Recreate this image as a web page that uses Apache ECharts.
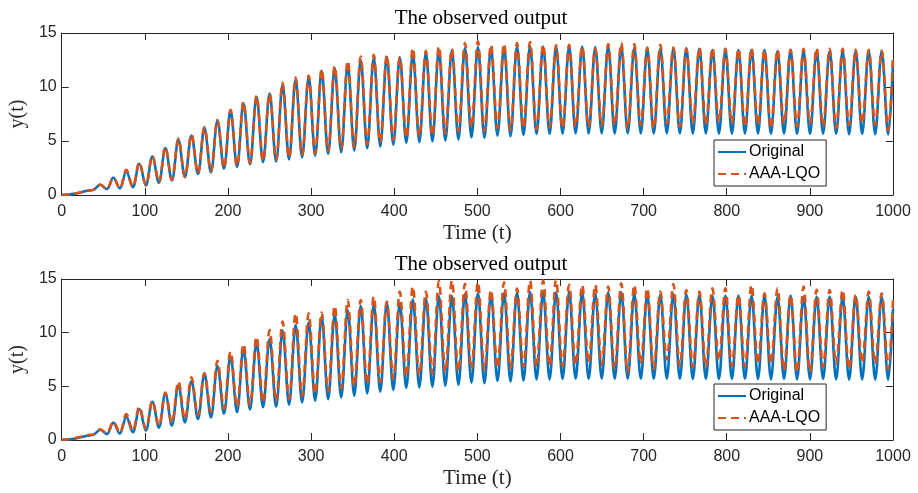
<!DOCTYPE html>
<html>
<head>
<meta charset="utf-8">
<script src="https://cdn.jsdelivr.net/npm/echarts@6/dist/echarts.min.js"></script>
<style>
  html, body { margin: 0; padding: 0; background: #fff; }
  #chart { width: 918px; height: 493px; }
</style>
</head>
<body>
<div id="chart"></div>
<script>
// time values of the start of the response, then of every peak and trough
var leadT = [0, 8, 15, 23, 31, 38.6];
var peakT = [46.4, 62.1, 77.7, 93.4, 109.1, 124.7, 140.4, 156.1, 171.7, 187.4,
  203.1, 218.7, 234.4, 250.1, 265.7, 281.4, 297.1, 312.7, 328.4, 344.1,
  359.7, 375.4, 391.1, 406.7, 422.4, 438.1, 453.7, 469.4, 485.1, 500.7,
  516.4, 532.1, 547.7, 563.4, 579.1, 594.7, 610.4, 626.1, 641.8, 657.4,
  673.1, 688.8, 704.4, 720.1, 735.8, 751.4, 767.1, 782.8, 798.4, 814.1,
  829.8, 845.4, 861.1, 876.8, 892.4, 908.1, 923.8, 939.4, 955.1, 970.8, 986.4];
var troughT = [54.2, 69.9, 85.5, 101.2, 116.9, 132.5, 148.2, 163.9, 179.5, 195.2,
  210.9, 226.5, 242.2, 257.9, 273.5, 289.2, 304.9, 320.5, 336.2, 351.9,
  367.5, 383.2, 398.9, 414.5, 430.2, 445.9, 461.5, 477.2, 492.9, 508.5,
  524.2, 539.9, 555.5, 571.2, 586.9, 602.5, 618.2, 633.9, 649.6, 665.2,
  680.9, 696.6, 712.2, 727.9, 743.6, 759.2, 774.9, 790.6, 806.2, 821.9,
  837.6, 853.2, 868.9, 884.6, 900.2, 915.9, 931.6, 947.2, 962.9, 978.6, 994.2];
var endT = 1000;

// Original
var origLead = [0, 0.05, 0.12, 0.25, 0.4, 0.5];
var origPeaks = [0.96, 1.62, 2.17, 2.89, 3.57, 4.34, 5.1, 5.5, 6.2, 6.9,
  7.8, 8.5, 9.1, 9.4, 10.2, 10.7, 10.95, 11.5, 11.7, 12.1,
  12.5, 12.7, 12.8, 12.75, 13.1, 13.2, 13.4, 13.4, 13.6, 13.7,
  13.6, 13.7, 13.75, 13.8, 13.75, 13.75, 13.8, 13.75, 13.7, 13.75,
  13.75, 13.65, 13.55, 13.55, 13.6, 13.6, 13.55, 13.45, 13.45, 13.45,
  13.45, 13.45, 13.36, 13.45, 13.36, 13.36, 13.36, 13.36, 13.36, 13.36, 13.36];
var origTroughs = [0.55, 0.6, 0.72, 0.88, 1.15, 1.35, 1.65, 1.95, 2.1, 2.45,
  2.6, 2.85, 3.05, 3.1, 3.3, 3.5, 3.65, 3.8, 3.97, 4.13,
  4.34, 4.5, 4.66, 4.85, 4.9, 4.97, 5.06, 5.15, 5.35, 5.3,
  5.5, 5.45, 5.55, 5.65, 5.65, 5.68, 5.7, 5.7, 5.72, 5.7,
  5.72, 5.7, 5.7, 5.72, 5.7, 5.68, 5.7, 5.68, 5.68, 5.7,
  5.68, 5.65, 5.68, 5.65, 5.65, 5.68, 5.65, 5.62, 5.65, 5.62, 5.6];
var origEnd = 12.2;

// AAA-LQO, upper plot
var lqoALead = [0, 0.05, 0.12, 0.25, 0.4, 0.5];
var lqoAPeaks = [0.95, 1.6, 2.33, 3.04, 3.6, 4.44, 5.22, 5.62, 6.3, 6.95,
  7.9, 8.63, 9.19, 9.41, 10.4, 10.87, 11.05, 11.65, 11.93, 12.42,
  12.83, 12.98, 12.92, 12.77, 13.6, 13.36, 13.76, 13.54, 14.07, 14.22,
  13.91, 14.0, 14.07, 14.17, 13.91, 13.85, 13.91, 13.76, 13.54, 13.97,
  14.07, 13.97, 13.66, 13.91, 13.66, 13.54, 13.66, 13.6, 13.54, 13.54,
  13.6, 13.45, 13.45, 13.45, 13.54, 13.6, 13.54, 13.54, 13.45, 13.45, 13.36];
var lqoATroughs = [0.55, 0.62, 0.75, 0.9, 1.2, 1.4, 1.7, 2.0, 2.2, 2.5,
  2.7, 2.95, 3.15, 3.25, 3.45, 3.7, 3.85, 4.05, 4.3, 4.4,
  4.7, 4.9, 5.1, 5.3, 5.4, 5.5, 5.7, 5.9, 6.3, 5.9,
  6.2, 6.0, 6.2, 6.1, 6.25, 6.2, 6.35, 6.3, 6.4, 6.47,
  6.16, 6.47, 6.16, 6.62, 6.32, 6.62, 6.47, 6.78, 6.62, 6.32,
  6.47, 6.16, 6.62, 6.32, 6.62, 6.32, 6.2, 6.47, 6.62, 6.47, 6.0];
var lqoAEnd = 12.9;

// AAA-LQO, lower plot
var lqoBLead = [0, 0.07, 0.15, 0.3, 0.45, 0.55];
var lqoBPeaks = [1.0, 1.71, 2.42, 3.1, 3.63, 4.41, 5.44, 5.84, 6.21, 7.39,
  8.23, 8.95, 9.63, 10.25, 11.03, 11.8, 11.8, 11.87, 12.5, 13.05,
  13.05, 13.36, 12.89, 13.82, 14.29, 13.82, 14.8, 14.85, 14.55, 14.7,
  13.98, 14.7, 14.1, 14.85, 14.85, 14.95, 14.45, 14.45, 14.45, 14.3,
  14.6, 14.45, 14.14, 13.82, 14.54, 13.98, 13.82, 14.14, 14.14, 13.5,
  14.45, 13.67, 14.14, 13.5, 14.29, 14.0, 13.98, 13.98, 13.51, 13.82, 13.67];
var lqoBTroughs = [0.6, 0.7, 0.85, 1.05, 1.35, 1.6, 1.95, 2.3, 2.6, 2.9,
  3.1, 3.3, 3.5, 3.6, 3.85, 4.1, 4.3, 4.5, 4.8, 5.0,
  5.2, 5.4, 5.7, 5.9, 6.0, 6.2, 6.3, 6.4, 6.6, 6.5,
  6.7, 6.7, 6.8, 6.8, 6.9, 6.9, 7.0, 7.2, 7.0, 6.6,
  6.3, 7.1, 6.6, 7.5, 6.9, 6.8, 6.8, 7.4, 6.9, 6.8,
  7.1, 7.1, 6.5, 6.3, 6.3, 6.8, 7.1, 6.6, 7.2, 7.1, 6.6];
var lqoBEnd = 13.1;

function buildLine(lead, peaks, troughs, endVal) {
  var d = leadT.map(function (t, i) { return [t, lead[i]]; });
  peakT.forEach(function (t, k) {
    d.push([t, peaks[k]]);
    d.push([troughT[k], troughs[k]]);
  });
  d.push([endT, endVal]);
  return d;
}

var ink = '#262626';
var sans = 'Liberation Sans, Arial, sans-serif';
var serif = 'Liberation Serif, Times New Roman, serif';
var blue = '#0072BD';
var orange = '#D95319';

var grids = [
  { left: 59, right: 25, top: 33, height: 162 },
  { left: 59, right: 25, top: 279, height: 161 }
];

function xAx(gi, mirror) {
  return {
    type: 'value', gridIndex: gi, min: 0, max: 1000, interval: 100,
    position: mirror ? 'top' : 'bottom',
    name: mirror ? '' : 'Time (t)', nameLocation: 'middle', nameGap: 28,
    nameTextStyle: { fontFamily: serif, fontSize: 21, color: ink },
    axisLine: { show: true, onZero: false, lineStyle: { color: ink, width: 1 } },
    axisTick: { show: true, inside: true, length: 7, lineStyle: { color: ink } },
    axisLabel: { show: !mirror, margin: 9, fontFamily: sans, fontSize: 16, color: ink,
      formatter: function (v) { return String(v); } },
    splitLine: { show: false }
  };
}
function yAx(gi, mirror) {
  return {
    type: 'value', gridIndex: gi, min: 0, max: 15, interval: 5,
    position: mirror ? 'right' : 'left',
    name: mirror ? '' : 'y(t)', nameLocation: 'middle', nameGap: 31,
    nameTextStyle: { fontFamily: serif, fontSize: 20, color: ink },
    axisLine: { show: true, onZero: false, lineStyle: { color: ink, width: 1 } },
    axisTick: { show: true, inside: true, length: 7, lineStyle: { color: ink } },
    axisLabel: { show: !mirror, margin: 5, fontFamily: sans, fontSize: 16, color: ink },
    splitLine: { show: false }
  };
}

function legendAt(top) {
  return {
    data: ['Original', 'AAA-LQO'], orient: 'vertical', left: 714, top: top,
    itemWidth: 28, itemHeight: 12, itemGap: 6,
    itemStyle: { opacity: 0 },
    backgroundColor: '#fff', borderColor: ink, borderWidth: 1, borderRadius: 0,
    padding: [4, 6, 4, 3],
    textStyle: { fontFamily: sans, fontSize: 16, color: '#000', padding: [0, 0, 0, -2] }
  };
}

function lineSeries(name, gi, data, color, dashed) {
  return {
    name: name, type: 'line', xAxisIndex: gi * 2, yAxisIndex: gi * 2,
    data: data, smooth: 0.36, symbol: 'none', showSymbol: false,
    lineStyle: { color: color, width: 2.6, type: dashed ? [8, 5] : 'solid' },
    itemStyle: { color: color },
    clip: true, silent: true, z: dashed ? 3 : 2
  };
}

var chart = echarts.init(document.getElementById('chart'));
chart.setOption({
  animation: false,
  backgroundColor: '#fff',
  title: [
    { text: 'The observed output', left: 476, top: 3, textAlign: 'center',
      textStyle: { fontFamily: serif, fontSize: 21, fontWeight: 'normal', color: '#000' } },
    { text: 'The observed output', left: 476, top: 249, textAlign: 'center',
      textStyle: { fontFamily: serif, fontSize: 21, fontWeight: 'normal', color: '#000' } }
  ],
  grid: grids,
  xAxis: [xAx(0, false), xAx(0, true), xAx(1, false), xAx(1, true)],
  yAxis: [yAx(0, false), yAx(0, true), yAx(1, false), yAx(1, true)],
  legend: [legendAt(140), legendAt(384)],
  series: [
    lineSeries('Original', 0, buildLine(origLead, origPeaks, origTroughs, origEnd), blue, false),
    lineSeries('AAA-LQO', 0, buildLine(lqoALead, lqoAPeaks, lqoATroughs, lqoAEnd), orange, true),
    lineSeries('Original', 1, buildLine(origLead, origPeaks, origTroughs, origEnd), blue, false),
    lineSeries('AAA-LQO', 1, buildLine(lqoBLead, lqoBPeaks, lqoBTroughs, lqoBEnd), orange, true)
  ]
});
</script>
</body>
</html>
